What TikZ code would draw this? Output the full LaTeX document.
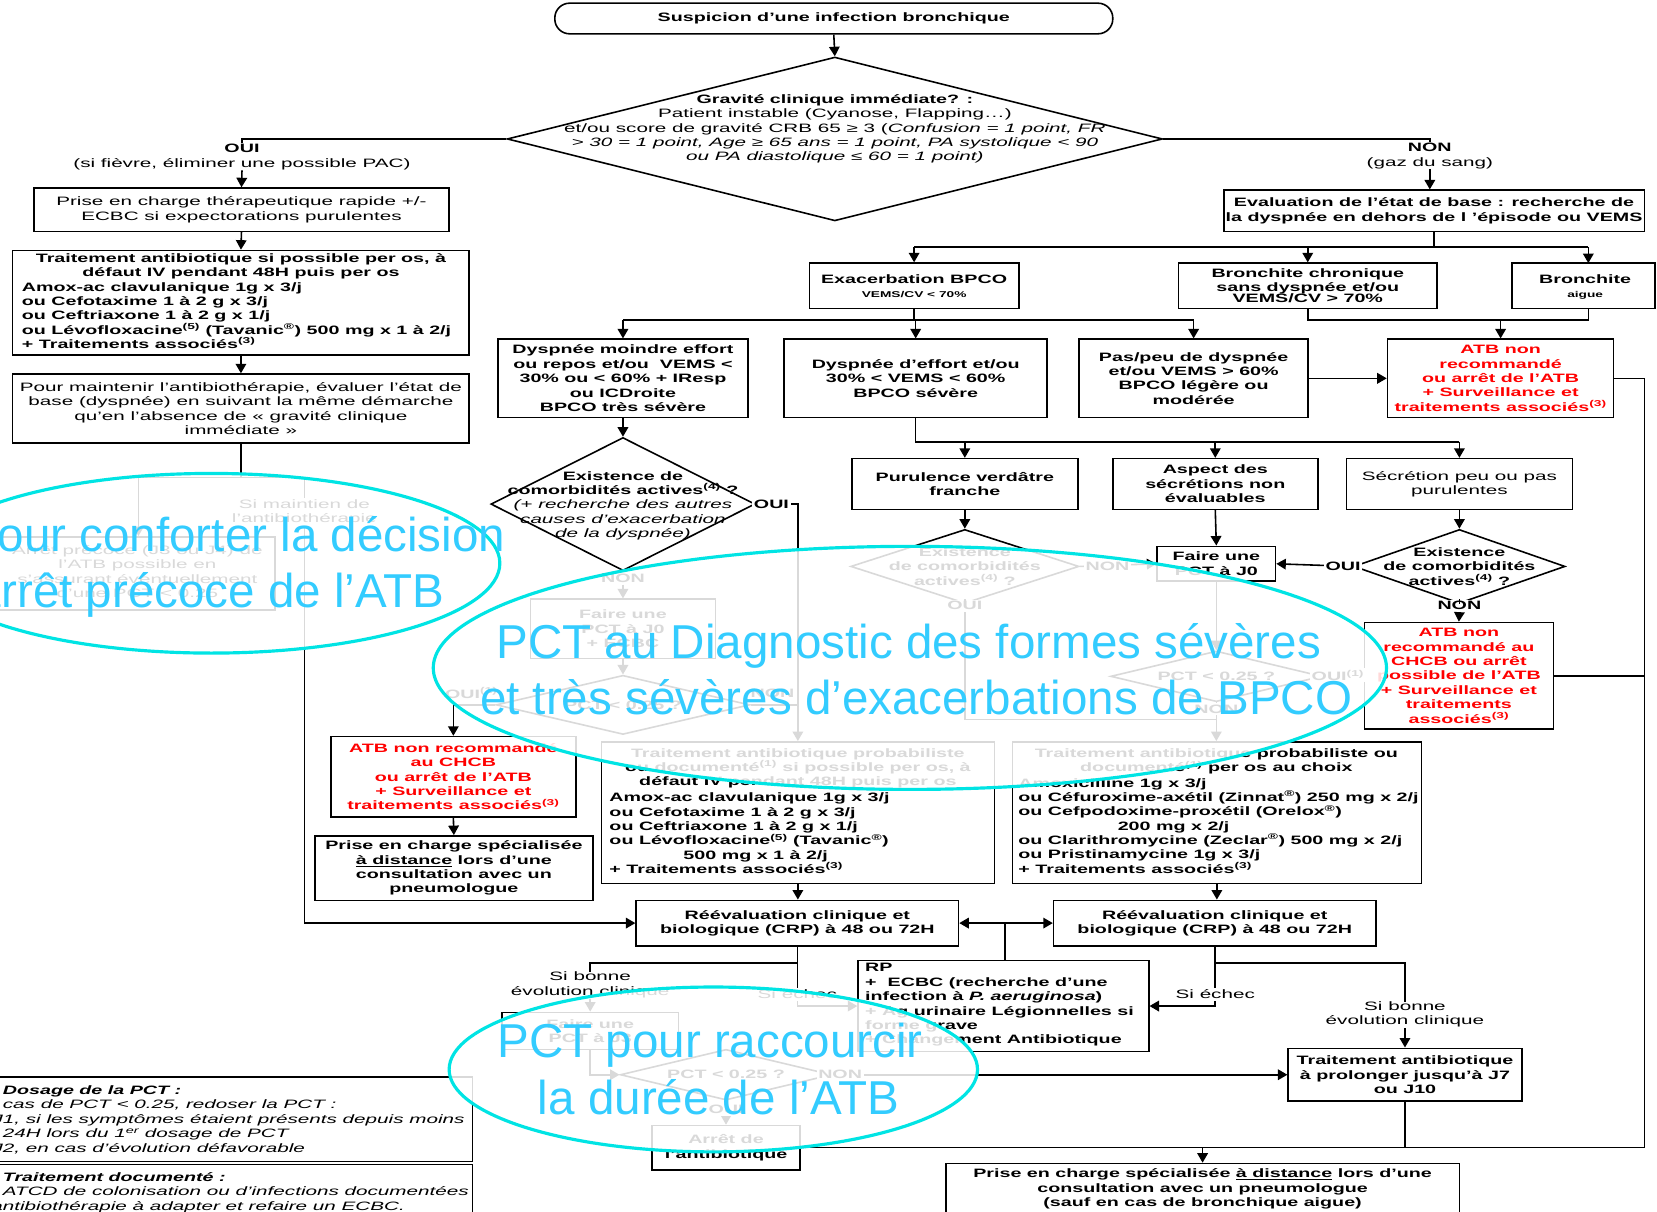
\documentclass[tikz,border=0pt]{standalone}
\usepackage{fontspec}
\setmainfont{Liberation Sans}[FakeStretch=1.70,
  BoldFeatures={FakeStretch=1.62},BoldItalicFeatures={FakeStretch=1.62}]
\newfontfamily\bluefont{Liberation Sans}
\usetikzlibrary{arrows.meta,shapes.geometric}
\definecolor{atbred}{RGB}{255,0,0}
\definecolor{pctblue}{RGB}{51,204,255}
\definecolor{ringcyan}{RGB}{0,228,228}
\newcommand\fs{\fontsize{11.5}{13.6}\selectfont}
\newcommand\smallfs{\fontsize{8}{9}\selectfont}
\newcommand\bigfs{\bluefont\fontsize{45}{53}\selectfont}
\newcommand\nref[1]{\textsuperscript{(#1)}}
\newcommand\mkbox[5]{\node[boxst,minimum width={#4-#2},minimum height={#5-#3}] (#1) at ({(#2+#4)/2},{(#3+#5)/2}) {};}
\begin{document}
\begin{tikzpicture}[x=1pt,y=-1pt,line width=1.5pt,
  boxst/.style={draw,rectangle,inner sep=0pt,line width=1.5pt},
  txt/.style={font=\fs,inner sep=0pt,align=center},
  btxt/.style={font=\fs\bfseries,inner sep=0pt,align=center},
  rtxt/.style={font=\fs\bfseries,inner sep=0pt,align=center,text=atbred},
  lab/.style={font=\fs\bfseries,inner sep=1.5pt,align=center,fill=white},
  dia/.style={draw,shape=diamond,inner sep=0pt,line width=1.5pt},
  arr/.style={-{Triangle[length=9pt,width=10pt]}},
  blue/.style={anchor=base,font=\bigfs,text=pctblue,inner sep=0pt}]
\useasboundingbox (0,0) rectangle (1568,1146);
\clip (0,0) rectangle (1568,1146);
\fill[white] (0,0) rectangle (1568,1146);

% ---------- boxes ----------
\node[boxst,rounded corners=14pt,minimum width=528,minimum height=29] (top) at (789,17.5) {};
\node[btxt] (top-t) at (top) {Suspicion d'une infection bronchique};

\node[dia,minimum width=620,minimum height=155] (grav) at (790,131.5) {};
\node[txt] (grav-t) at (790,122) {\textbf{Gravité clinique immédiate? :}\\
Patient instable (Cyanose, Flapping…)\\
et/ou score de gravité CRB 65 ≥ 3 (\textit{Confusion = 1 point, FR}\\
\textit{> 30 = 1 point, Age ≥ 65 ans = 1 point, PA systolique < 90}\\
\textit{ou PA diastolique ≤ 60 = 1 point)}};

\node[txt] (oui) at (229,148.5) {\textbf{OUI}\\(si fièvre, éliminer une possible PAC)};
\node[txt] (non) at (1353,147.5) {\textbf{NON}\\(gaz du sang)};

\mkbox{pc1}{32}{178}{425}{219}
\node[txt] (pc1-t) at (pc1) {Prise en charge thérapeutique rapide +/-\\ECBC si expectorations purulentes};
\mkbox{ta1}{12}{237}{444}{336}
\node[btxt] (ta1-h) at (228,252) {Traitement antibiotique si possible per os, à\\défaut IV pendant 48H puis per os};
\node[btxt,align=left,anchor=west] (ta1-l) at (20,298.5) {Amox-ac clavulanique 1g x 3/j\\ou Cefotaxime 1 à 2 g x 3/j\\ou Ceftriaxone 1 à 2 g x 1/j\\ou Lévofloxacine\nref{5} (Tavanic\textsuperscript{®}) 500 mg x 1 à 2/j\\+ Traitements associés\nref{3}};
\mkbox{pm}{12}{354}{444}{419}
\node[txt] (pm-t) at (pm) {Pour maintenir l'antibiothérapie, évaluer l'état de\\base (dyspnée) en suivant la même démarche\\qu'en l'absence de « gravité clinique\\immédiate »};
\mkbox{ap}{-10}{508}{260}{577}
\node[txt] (ap-t) at (130,541) {Arrêt précoce (J3 ou J4) de\\l'ATB possible en\\s'assurant éventuellement\\d'une PCT < 0.25};

\mkbox{ev}{1158}{180}{1556}{219}
\node[btxt] (ev-t) at (ev) {Evaluation de l'état de base : recherche de\\la dyspnée en dehors de l 'épisode ou VEMS};
\mkbox{ex}{766}{249}{964}{292}
\node[btxt] (ex-t) at (865,264) {Exacerbation BPCO};
\node[btxt,font=\smallfs\bfseries] (ex-s) at (865,279) {VEMS/CV < 70\%};
\mkbox{bc}{1115}{249}{1360}{292}
\node[btxt] (bc-t) at (bc) {Bronchite chronique\\sans dyspnée et/ou\\[-3pt]VEMS/CV > 70\%};
\mkbox{ba}{1431}{249}{1566}{292}
\node[btxt] (ba-t) at (1500,264) {Bronchite};
\node[btxt,font=\smallfs\bfseries] (ba-s) at (1500,279) {aigue};

\mkbox{dm}{471}{321}{708}{395}
\node[btxt] (dm-t) at (dm) {Dyspnée moindre effort\\ou repos et/ou \ VEMS <\\30\% ou < 60\% + IResp\\ou ICDroite\\BPCO très sévère};
\mkbox{de}{742}{321}{991}{395}
\node[btxt] (de-t) at (de) {Dyspnée d'effort et/ou\\30\% < VEMS < 60\%\\BPCO sévère};
\mkbox{pp}{1021}{321}{1238}{395}
\node[btxt] (pp-t) at (pp) {Pas/peu de dyspnée\\et/ou VEMS > 60\%\\BPCO légère ou\\modérée};
\mkbox{atbR}{1313}{321}{1527}{395}
\node[rtxt] (atbR-t) at (atbR) {ATB non\\recommandé\\ou arrêt de l'ATB\\+ Surveillance et\\traitements associés\nref{3}};

\mkbox{pv}{806}{434}{1020}{482}
\node[btxt] (pv-t) at (pv) {Purulence verdâtre\\franche};
\mkbox{as}{1053}{434}{1247}{482}
\node[btxt] (as-t) at (as) {Aspect des\\sécrétions non\\évaluables};
\mkbox{sp}{1274}{434}{1488}{482}
\node[txt] (sp-t) at (sp) {Sécrétion peu ou pas\\purulentes};

\node[dia,minimum width=250,minimum height=126] (dc1) at (589.5,477) {};
\node[btxt] (dc1-t) at (589.5,478.5) {Existence de\\comorbidités actives\nref{4} ?\\\mdseries\itshape (+ recherche des autres\\\mdseries\itshape causes d'exacerbation\\\mdseries\itshape de la dyspnée)};
\mkbox{fp1}{502}{567}{677}{623}
\node[btxt] (fp1-t) at (fp1) {Faire une\\PCT à J0\\+ ECBC};
\node[dia,minimum width=240,minimum height=56] (dp1) at (589.5,667) {};
\node[btxt] (dp1-t) at (dp1) {PCT < 0.25 ?};

\node[dia,minimum width=216,minimum height=70] (dc2) at (913,536) {};
\node[btxt] (dc2-t) at (dc2) {Existence\\de comorbidités\\actives\nref{4} ?};
\mkbox{fp2}{1095}{517}{1207}{550}
\node[btxt] (fp2-t) at (fp2) {Faire une\\PCT à J0};
\node[dia,minimum width=200,minimum height=48] (dp2) at (1151,640) {};
\node[btxt] (dp2-t) at (dp2) {PCT < 0.25 ?};
\node[dia,minimum width=200,minimum height=70] (dc3) at (1381,536) {};
\node[btxt] (dc3-t) at (dc3) {Existence\\de comorbidités\\actives\nref{4} ?};
\mkbox{atb2}{1291}{589}{1470}{690}
\node[rtxt] (atb2-t) at (atb2) {ATB non\\recommandé au\\CHCB ou arrêt\\possible de l'ATB\\+ Surveillance et\\traitements\\associés\nref{3}};

\mkbox{atbL}{313}{697}{545}{773}
\node[rtxt] (atbL-t) at (atbL) {ATB non recommandé\\au CHCB\\ou arrêt de l'ATB\\+ Surveillance et\\traitements associés\nref{3}};
\mkbox{pcs1}{298}{791}{561}{852}
\node[btxt] (pcs1-t) at (pcs1) {Prise en charge spécialisée\\\underline{à distance} lors d'une\\consultation avec un\\pneumologue};

\mkbox{tb1}{569}{702}{941}{836}
\node[btxt] (tb1-h) at (755,727) {Traitement antibiotique probabiliste\\ou documenté\nref{1} si possible per os, à\\défaut IV pendant 48H puis per os};
\node[btxt,align=left,anchor=west] (tb1-l) at (576,788.5) {Amox-ac clavulanique 1g x 3/j\\ou Cefotaxime 1 à 2 g x 3/j\\ou Ceftriaxone 1 à 2 g x 1/j\\ou Lévofloxacine\nref{5} (Tavanic\textsuperscript{®})\\\hspace*{70pt}500 mg x 1 à 2/j\\+ Traitements associés\nref{3}};
\mkbox{tb2}{958}{702}{1345}{836}
\node[btxt] (tb2-h) at (1151,720.5) {Traitement antibiotique probabiliste ou\\documenté\nref{1} per os au choix};
\node[btxt,align=left,anchor=west] (tb2-l) at (963,781.5) {Amoxicilline 1g x 3/j\\ou Céfuroxime-axétil (Zinnat\textsuperscript{®}) 250 mg x 2/j\\ou Cefpodoxime-proxétil (Orelox\textsuperscript{®})\\\hspace*{94pt}200 mg x 2/j\\ou Clarithromycine (Zeclar\textsuperscript{®}) 500 mg x 2/j\\ou Pristinamycine 1g x 3/j\\+ Traitements associés\nref{3}};

\mkbox{rv1}{602}{852}{907}{895}
\node[btxt] (rv1-t) at (rv1) {Réévaluation clinique et\\biologique (CRP) à 48 ou 72H};
\mkbox{rv2}{997}{852}{1302}{895}
\node[btxt] (rv2-t) at (rv2) {Réévaluation clinique et\\biologique (CRP) à 48 ou 72H};
\mkbox{rp}{812}{909}{1087}{995}
\node[btxt,align=left,anchor=west] (rp-t) at (818,951) {RP\\+ \ ECBC (recherche d'une\\infection à \textit{P. aeruginosa})\\+ Ag urinaire Légionnelles si\\forme grave\\+ Changement Antibiotique};
\mkbox{tp}{1219}{992}{1440}{1042}
\node[btxt] (tp-t) at (tp) {Traitement antibiotique\\à prolonger jusqu'à J7\\ou J10};
\mkbox{fp3}{475}{958}{642}{993}
\node[btxt] (fp3-t) at (fp3) {Faire une\\PCT à J3};
\node[dia,minimum width=200,minimum height=48] (dp3) at (687,1017) {};
\node[btxt] (dp3-t) at (dp3) {PCT < 0.25 ?};
\mkbox{stop}{617}{1065}{757}{1107}
\node[btxt] (stop-t) at (stop) {Arrêt de\\l'antibiotique};
\mkbox{pcs2}{895}{1101}{1381}{1170}
\node[btxt] (pcs2-t) at (1138,1125) {Prise en charge spécialisée \underline{à distance} lors d'une\\consultation avec un pneumologue\\(sauf en cas de bronchique aigue)};

\mkbox{fn1}{-10}{1019}{447}{1099}
\node[txt,align=left,anchor=west,font=\fs\itshape] (fn1-t) at (2,1059.5) {\textbf{Dosage de la PCT :}\\\llap{En }cas de PCT < 0.25, redoser la PCT :\\\llap{- J}1, si les symptômes étaient présents depuis moins\\\llap{de }24H lors du 1\textsuperscript{er} dosage de PCT\\\llap{- J}2, en cas d'évolution défavorable};
\mkbox{fn2}{-10}{1102}{447}{1170}
\node[txt,align=left,anchor=west,font=\fs\itshape] (fn2-t) at (2,1128.5) {\textbf{Traitement documenté :}\\\llap{- Si }ATCD de colonisation ou d'infections documentées\\\llap{- a}ntibiothérapie à adapter et refaire un ECBC.};

% ---------- connectors ----------
\draw[arr] (top.south) -- (grav.north);
\draw (grav.west) -| (oui.north);
\draw[arr] (oui.south) -- (pc1.north);
\draw[arr] (pc1.south) -- (ta1.north);
\draw[arr] (ta1.south) -- (pm.north);
\coordinate (s1) at (228,452);
\coordinate (s1l) at (131,452);
\coordinate (s1r) at (288,452);
\draw (pm.south) -- (s1);
\draw (s1l) -- (s1r);
\draw[arr] (s1l) -- (s1l |- ap.north);
\draw[arr] (s1r) |- (rv1.west);
\node[lab,font=\fs] (maint) at (288,485) {Si maintien de\\l'antibiothérapie};

\draw (grav.east) -| (non.north);
\draw[arr] (non.south) -- (non.south |- ev.north);
\coordinate (s2) at (1357,234);
\draw (ev.south) -- (s2);
\draw (ex.north |- s2) -- (1503,234);
\draw[arr] (ex.north |- s2) -- (ex.north);
\draw[arr] (bc.north |- s2) -- (bc.north);
\draw[arr] (1503,234) -- (1503,249);

\coordinate (s3) at (0,303);
\draw (bc.south) -- (bc.south |- s3) -- (1503,303) -- (1503,292);
\draw[arr] (atbR.north |- s3) -- (atbR.north);
\draw (ex.south) -- (ex.south |- s3);
\draw (dm.north |- s3) -- (pp.north |- s3);
\draw[arr] (dm.north |- s3) -- (dm.north);
\draw[arr] (de.north |- s3) -- (de.north);
\draw[arr] (pp.north |- s3) -- (pp.north);
\draw[arr] (pp.east) -- (atbR.west);

\coordinate (rr) at (1556,0);
\draw (atbR.east) -- (atbR.east -| rr) -- (rr |- stop.east) -- (stop.east);
\draw (atb2.east) -- (atb2.east -| rr);
\draw (tp.south) -- (tp.south |- stop.east);
\draw[arr] (pcs2.north |- stop.east) -- (pcs2.north);

\coordinate (s4) at (0,418);
\draw (de.south) -- (de.south |- s4) -- (sp.north |- s4);
\draw[arr] (pv.north |- s4) -- (pv.north);
\draw[arr] (as.north |- s4) -- (as.north);
\draw[arr] (sp.north |- s4) -- (sp.north);

\draw[arr] (dm.south) -- (dc1.north);
\draw[arr] (dc1.east) -| (tb1.north);
\node[lab] (dc1-oui) at (730,477) {OUI};
\node[lab] (dc1-non) at (589.5,547) {NON};
\draw (dc1.south) -- (dc1-non.north);
\draw[arr] (dc1-non.south) -- (fp1.north);
\draw[arr] (fp1.south) -- (dp1.north);
\draw[arr] (dp1.west) -| (atbL.north);
\draw (dp1.east) -- (dp1.east -| tb1.north);
\node[btxt] (dp1-oui) at (446,656) {OUI\nref{1}};
\node[btxt] (dp1-non) at (731,656) {NON};
\draw[arr] (atbL.south) -- (pcs1.north);

\draw[arr] (pv.south) -- (dc2.north);
\draw[arr] (as.south) -- (fp2.north);
\draw[arr] (sp.south) -- (dc3.north);
\draw[arr] (dc3.west) -- (fp2.east);
\node[lab] (dc3-oui) at (1271,536) {OUI};
\node[lab] (dc3-non) at (1381,573) {NON};
\draw (dc3.south) -- (dc3-non.north);
\draw[arr] (dc3-non.south) -- (atb2.north);
\draw[arr] (dc2.east) -- (fp2.west);
\node[lab] (dc2-non) at (1048,536) {NON};
\node[lab] (dc2-oui) at (913,573) {OUI};
\draw (dc2.south) -- (dc2-oui.north);
\coordinate (s6) at (0,681);
\draw (dc2-oui.south) -- (dc2-oui.south |- s6) -- (dp2.south |- s6);
\draw[arr] (fp2.south) -- (dp2.north);
\draw[arr] (dp2.south) -- (dp2.south |- tb2.north);
\node[lab] (dp2-non) at (1151,671) {NON};
\draw[arr] (dp2.east) -- (atb2.west |- dp2.east);
\node[lab] (dp2-oui) at (1266,639) {OUI\nref{1}};

\draw[arr] (tb1.south) -- (tb1.south |- rv1.north);
\draw[arr] (tb2.south) -- (tb2.south |- rv2.north);
\coordinate (j1) at (951,873.5);
\draw (j1 |- rp.north) -- (j1);
\draw[arr] (j1) -- (rv1.east);
\draw[arr] (j1) -- (rv2.west);

\coordinate (s5) at (0,911);
\draw (rv2.south) -- (rv2.south |- s5) -- (tp.north |- s5) -- (1329.5,948);
\node[txt] (sbe2) at (1329.5,960) {Si bonne\\évolution clinique};
\draw[arr] (sbe2.south) -- (tp.north);
\draw[arr] (rv2.south |- s5) -- (rv2.south |- rp.east) -- (rp.east);
\node[lab,font=\fs] (ech2) at (1150,941) {Si échec};

\draw (rv1.south) -- (rv1.south |- s5) -- (558.5,911) -- (558.5,920);
\node[txt] (sbe1) at (558.5,932) {Si bonne\\évolution clinique};
\draw[arr] (sbe1.south) -- (fp3.north);
\draw[arr] (rv1.south |- s5) -- (rv1.south |- rp.west) -- (rp.west);
\node[lab,font=\fs] (ech1) at (754.5,941) {Si échec};
\draw[arr] (fp3.south) |- (dp3.west);
\draw[arr] (dp3.east) -- (tp.west);
\node[lab] (dp3-non) at (795,1017) {NON};
\draw[arr] (dp3.south) -- (stop.north);
\node[lab] (dp3-oui) at (687,1050) {OUI};

% ---------- highlighted zones ----------
\fill[white,fill opacity=0.85] (200,533) ellipse [x radius=273,y radius=85];
\fill[white,fill opacity=0.85] (861,632) ellipse [x radius=451,y radius=115];
\fill[white,fill opacity=0.85] (675,1012) ellipse [x radius=250,y radius=78];
\draw[ringcyan,line width=3pt] (200,533) ellipse [x radius=273,y radius=85];
\draw[ringcyan,line width=3pt] (861,632) ellipse [x radius=451,y radius=115];
\draw[ringcyan,line width=3pt] (675,1012) ellipse [x radius=250,y radius=78];
\node[blue] (z1a) at (223,522) {Pour conforter la décision};
\node[blue] (z1b) at (181,575) {d’arrêt précoce de l’ATB};
\node[blue] (z2a) at (860,623) {PCT au Diagnostic des formes sévères};
\node[blue] (z2b) at (867,676) {et très sévères d’exacerbations de BPCO};
\node[blue] (z3a) at (672,1001) {PCT pour raccourcir};
\node[blue] (z3b) at (680,1055) {la durée de l’ATB};
\end{tikzpicture}
\end{document}
